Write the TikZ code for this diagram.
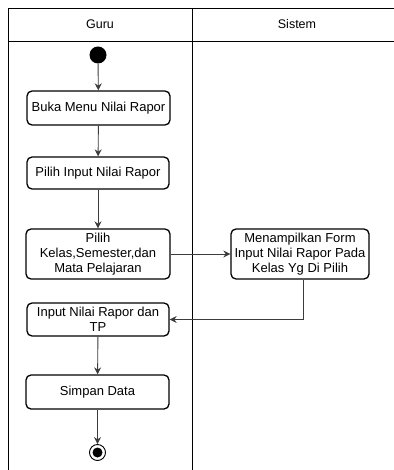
\documentclass[tikz,border=0pt]{standalone}
\usepackage{fontspec}
\setmainfont{Liberation Sans}
\usepackage{tikz}
\usetikzlibrary{arrows.meta, positioning, calc}
\usepackage{xcolor}
\definecolor{LineGray}{RGB}{60,60,60}
\tikzset{
  lanebox/.style={draw=black,line width=0.9pt},
  lanehead/.style={font=\fontsize{12.5}{14}\selectfont},
  actbox/.style={rectangle,rounded corners=5pt,draw=black,line width=1.3pt,
    align=center,font=\fontsize{13}{15}\selectfont,inner sep=1pt},
  startdot/.style={circle,fill=black,minimum size=17pt,inner sep=0pt},
  enddot/.style={circle,draw=black,line width=0.9pt,minimum size=16pt,inner sep=0pt},
  arrow/.style={-{Stealth[length=7pt,width=7pt]},line width=0.9pt,color=LineGray}
}
\begin{document}
\begin{tikzpicture}[x=1pt,y=-1pt]
  \useasboundingbox (0,0) rectangle (393,470);
  % swimlanes
  \draw[lanebox] (8,474) -- (8,8) -- (397,8);
  \draw[lanebox] (8,41) -- (397,41);
  \draw[lanebox] (192,8) -- (192,474);
  \node[lanehead] (guru) at (100,24.5) {Guru};
  \node[lanehead] (sistem) at (297,24.5) {Sistem};
  % activities
  \node[startdot] (start) at (98,55) {};
  \node[actbox,minimum width=143pt,minimum height=34pt] (buka) at (98.5,108) {Buka Menu Nilai Rapor};
  \node[actbox,minimum width=142pt,minimum height=32pt] (pilihinput) at (98,173) {Pilih Input Nilai Rapor};
  \node[actbox,minimum width=144pt,minimum height=50pt] (pilihkelas) at (98,254) {Pilih\\Kelas,Semester,dan\\Mata Pelajaran};
  \node[actbox,minimum width=138pt,minimum height=50pt] (tampilform) at (300,254) {Menampilkan Form\\Input Nilai Rapor Pada\\Kelas Yg Di Pilih};
  \node[actbox,minimum width=142pt,minimum height=33pt] (inputnilai) at (98,319.5) {Input Nilai Rapor dan\\TP};
  \node[actbox,minimum width=143pt,minimum height=34pt] (simpan) at (97.5,392) {Simpan Data};
  \node[enddot] (finish) at (97.5,452.5) {};
  \fill (finish.center) circle (5pt);
  % flows
  \draw[arrow] (start) -- (buka);
  \draw[arrow] (buka) -- (pilihinput);
  \draw[arrow] (pilihinput) -- (pilihkelas);
  \draw[arrow] (pilihkelas) -- (tampilform);
  \draw[arrow] (tampilform.south -| 303,0) |- (inputnilai.east);
  \draw[arrow] (inputnilai) -- (simpan);
  \draw[arrow] (simpan) -- (finish);
\end{tikzpicture}
\end{document}
